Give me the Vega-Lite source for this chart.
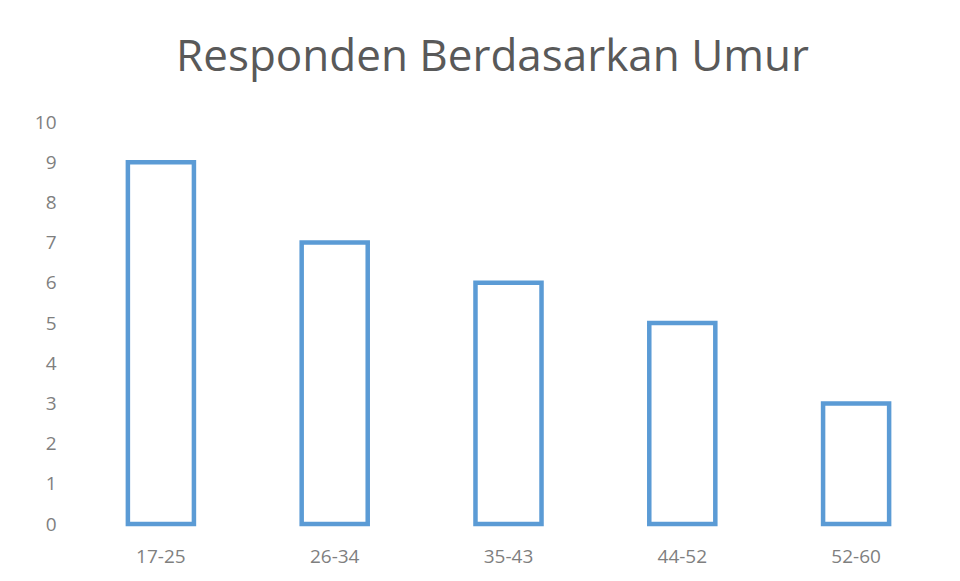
{
  "$schema": "https://vega.github.io/schema/vega-lite/v6.json",
  "autosize": "none",
  "width": 869,
  "height": 402,
  "padding": {"left": 74, "top": 122, "right": 17, "bottom": 57},
  "background": "white",
  "data": {"values": [
    {"umur": "17-25", "jumlah": 9},
    {"umur": "26-34", "jumlah": 7},
    {"umur": "35-43", "jumlah": 6},
    {"umur": "44-52", "jumlah": 5},
    {"umur": "52-60", "jumlah": 3}
  ]},
  "title": {
    "text": "Responden Berdasarkan Umur",
    "font": "Open Sans",
    "fontSize": 44,
    "fontWeight": "normal",
    "color": "#595959",
    "anchor": "middle",
    "dx": -16,
    "baseline": "alphabetic",
    "offset": -2
  },
  "mark": {"type": "bar", "fill": "white", "stroke": "#5B9BD5", "strokeWidth": 4.5},
  "encoding": {
    "x": {
      "field": "umur", "type": "nominal", "sort": null,
      "scale": {"paddingInner": 0.62, "paddingOuter": 0.31},
      "axis": {"title": null, "labelAngle": 0, "domain": false, "ticks": false, "labelPadding": 23,
               "labelFont": "Open Sans", "labelFontSize": 19, "labelColor": "#7F7F7F"}
    },
    "y": {
      "field": "jumlah", "type": "quantitative",
      "scale": {"domain": [0, 10]},
      "axis": {"title": null, "values": [0,1,2,3,4,5,6,7,8,9,10], "grid": false, "domain": false, "ticks": false,
               "labelPadding": 18, "labelFont": "Open Sans", "labelFontSize": 19, "labelColor": "#7F7F7F"}
    }
  },
  "config": {"view": {"stroke": null}}
}
